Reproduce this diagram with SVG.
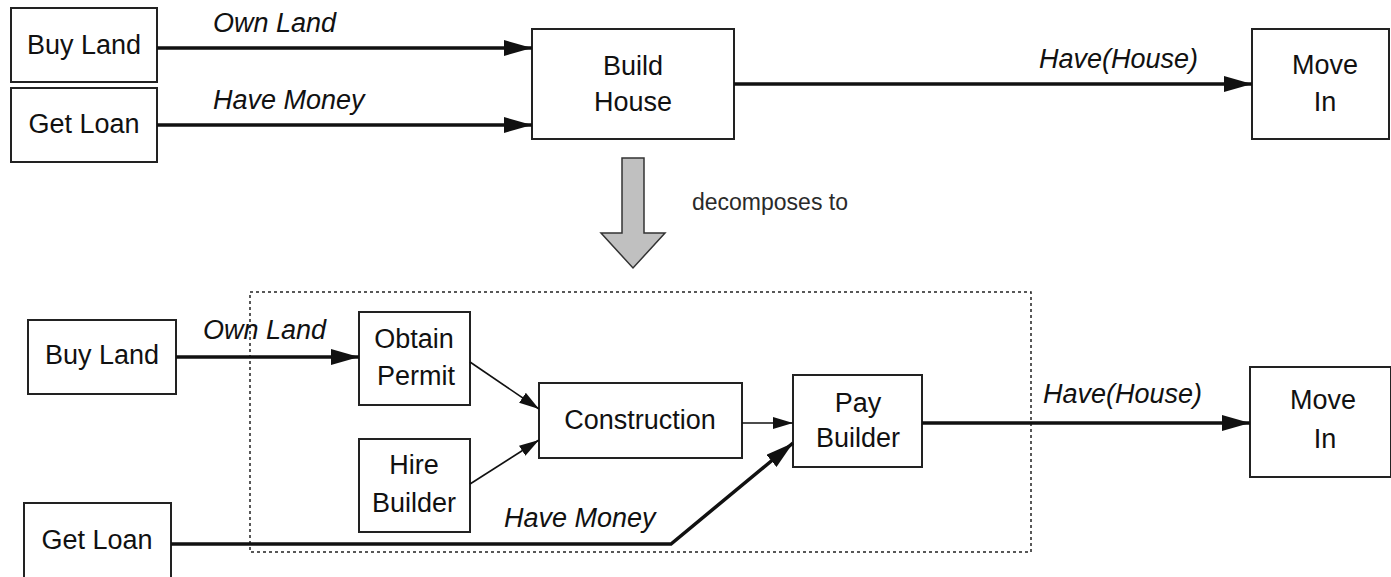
<svg xmlns="http://www.w3.org/2000/svg" width="1391" height="577" viewBox="0 0 1391 577">
  <style>
    .box { fill: #ffffff; stroke: #222222; stroke-width: 2; }
    .lbl { font-family: "Liberation Sans", Arial, sans-serif; font-size: 27px; fill: #111111; text-anchor: middle; }
    .flow { font-family: "Liberation Sans", Arial, sans-serif; font-size: 27px; font-style: italic; fill: #111111; }
    .note { font-family: "Liberation Sans", Arial, sans-serif; font-size: 23px; fill: #2a2a2a; }
    .thick { fill: none; stroke: #111111; stroke-width: 3.5; marker-end: url(#headBig); }
    .thin { fill: none; stroke: #111111; stroke-width: 1.6; marker-end: url(#headSmall); }
  </style>
  <defs>
    <marker id="headBig" markerUnits="userSpaceOnUse" markerWidth="28" markerHeight="16" refX="28" refY="8" orient="auto">
      <path d="M0,0 L28,8 L0,16 z" fill="#111111"/>
    </marker>
    <marker id="headSmall" markerUnits="userSpaceOnUse" markerWidth="20" markerHeight="12" refX="20" refY="6" orient="auto">
      <path d="M0,0 L20,6 L0,12 z" fill="#111111"/>
    </marker>
  </defs>
  <rect width="1391" height="577" fill="#ffffff"/>

  <!-- upper level: abstract plan -->
  <g id="top-buy-land">
    <rect class="box" x="11" y="8" width="146" height="74"/>
    <text class="lbl" x="84" y="54">Buy Land</text>
  </g>
  <g id="top-get-loan">
    <rect class="box" x="11" y="88" width="146" height="74"/>
    <text class="lbl" x="84" y="133">Get Loan</text>
  </g>
  <g id="top-build-house">
    <rect class="box" x="532" y="29" width="202" height="110"/>
    <text class="lbl" x="633" y="75">Build</text>
    <text class="lbl" x="633" y="111">House</text>
  </g>
  <g id="top-move-in">
    <rect class="box" x="1252" y="29" width="137" height="110"/>
    <text class="lbl" x="1325" y="74">Move</text>
    <text class="lbl" x="1325" y="111">In</text>
  </g>

  <!-- decomposition arrow -->
  <g id="decomposes">
    <path d="M622,158 L644,158 L644,233 L665,233 L633,268 L601,233 L622,233 z" fill="#c0c0c0" stroke="#333333" stroke-width="1.5" stroke-linejoin="miter"/>
    <text class="note" x="692" y="210">decomposes to</text>
  </g>

  <!-- lower level: refined plan -->
  <g id="refinement-boundary">
    <rect x="250" y="292" width="781" height="260" fill="none" stroke="#222222" stroke-width="1.5" stroke-dasharray="3,3"/>
  </g>
  <g id="bottom-buy-land">
    <rect class="box" x="28" y="320" width="148" height="74"/>
    <text class="lbl" x="102" y="364">Buy Land</text>
  </g>
  <g id="bottom-get-loan">
    <rect class="box" x="24" y="503" width="147" height="80"/>
    <text class="lbl" x="97" y="549">Get Loan</text>
  </g>
  <g id="obtain-permit">
    <rect class="box" x="359" y="312" width="111" height="93"/>
    <text class="lbl" x="414" y="348">Obtain</text>
    <text class="lbl" x="416" y="385">Permit</text>
  </g>
  <g id="hire-builder">
    <rect class="box" x="359" y="439" width="111" height="93"/>
    <text class="lbl" x="414" y="474">Hire</text>
    <text class="lbl" x="414" y="512">Builder</text>
  </g>
  <g id="construction">
    <rect class="box" x="539" y="383" width="203" height="75"/>
    <text class="lbl" x="640" y="429">Construction</text>
  </g>
  <g id="pay-builder">
    <rect class="box" x="793" y="375" width="129" height="92"/>
    <text class="lbl" x="858" y="412">Pay</text>
    <text class="lbl" x="858" y="447">Builder</text>
  </g>
  <g id="bottom-move-in">
    <rect class="box" x="1250" y="367" width="141" height="110"/>
    <text class="lbl" x="1323" y="409">Move</text>
    <text class="lbl" x="1325" y="448">In</text>
  </g>

  <!-- connectors -->
  <g id="connectors">
    <line class="thick" x1="157" y1="48" x2="532" y2="48"/>
    <line class="thick" x1="157" y1="125" x2="532" y2="125"/>
    <line class="thick" x1="734" y1="84" x2="1252" y2="84"/>

    <line class="thick" x1="176" y1="357" x2="359" y2="357"/>
    <line class="thin" x1="470" y1="362" x2="539" y2="409"/>
    <line class="thin" x1="470" y1="484" x2="539" y2="440"/>
    <line class="thin" x1="742" y1="423" x2="793" y2="423"/>
    <polyline class="thick" points="171,544 671,544 793,443"/>
    <line class="thick" x1="922" y1="423" x2="1250" y2="423"/>
  </g>

  <!-- connector labels -->
  <g id="connector-labels">
    <text class="flow" x="213" y="32">Own Land</text>
    <text class="flow" x="213" y="109">Have Money</text>
    <text class="flow" x="1039" y="68">Have(House)</text>
    <text class="flow" x="203" y="339">Own Land</text>
    <text class="flow" x="504" y="527">Have Money</text>
    <text class="flow" x="1043" y="403">Have(House)</text>
  </g>
</svg>
